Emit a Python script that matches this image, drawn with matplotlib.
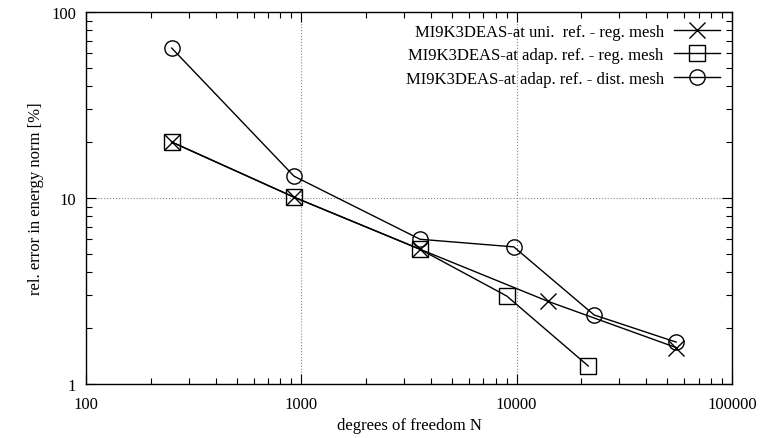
import numpy as np
import matplotlib
matplotlib.use("Agg")
import matplotlib.pyplot as plt
from matplotlib.ticker import LogLocator, NullFormatter, FixedLocator, FixedFormatter

plt.rcParams['font.family'] = ['Liberation Serif', 'DejaVu Serif']

# uniform refinement - regular mesh
uni_N = [250, 925, 3560, 14000, 55000]
uni_err = [20.0, 10.1, 5.3, 2.78, 1.57]

# adaptive refinement - regular mesh
adap_N = [250, 925, 3560, 9000, 21500]
adap_err = [20.0, 10.1, 5.3, 2.97, 1.25]

# adaptive refinement - distorted mesh
dist_N = [250, 925, 3560, 9700, 22900, 55000]
dist_err = [64.0, 13.1, 6.0, 5.46, 2.35, 1.68]

labels = ["MI9K3DEAS-at uni.  ref. - reg. mesh",
          "MI9K3DEAS-at adap. ref. - reg. mesh",
          "MI9K3DEAS-at adap. ref. - dist. mesh"]

x_ticks = [100, 1000, 10000, 100000]
x_ticklabels = ["100", "1000", "10000", "100000"]
y_ticks = [1, 10, 100]
y_ticklabels = ["1", "10", "100"]

fig = plt.figure(figsize=(7.6, 4.39), dpi=100)
ax = fig.add_axes([86/760, 1 - 385/439, (732-86)/760, (385-13)/439])

ax.plot(uni_N, uni_err, color='black', lw=1.0, marker='x', ms=11, mew=1.0, label=labels[0])
ax.plot(adap_N, adap_err, color='black', lw=1.0, marker='s', ms=11, mfc='none', mew=1.0, label=labels[1])
ax.plot(dist_N, dist_err, color='black', lw=1.0, marker='o', ms=11, mfc='none', mew=1.0, label=labels[2])

ax.set_xscale('log')
ax.set_yscale('log')
ax.set_xlim(100, 100000)
ax.set_ylim(1, 100)

ax.xaxis.set_major_locator(FixedLocator(x_ticks))
ax.xaxis.set_major_formatter(FixedFormatter(x_ticklabels))
ax.yaxis.set_major_locator(FixedLocator(y_ticks))
ax.yaxis.set_major_formatter(FixedFormatter(y_ticklabels))
ax.xaxis.set_minor_locator(LogLocator(base=10, subs=np.arange(2, 10)))
ax.yaxis.set_minor_locator(LogLocator(base=10, subs=np.arange(2, 10)))
ax.xaxis.set_minor_formatter(NullFormatter())
ax.yaxis.set_minor_formatter(NullFormatter())

ax.tick_params(which='both', direction='in', top=True, right=True, labelsize=12, width=0.8)
ax.tick_params(axis='x', pad=9)
ax.tick_params(axis='y', pad=7)
ax.tick_params(which='major', length=7)
ax.tick_params(which='minor', length=4)
for s in ax.spines.values():
    s.set_linewidth(1.0)

ax.grid(True, which='major', color='#888888', linestyle=':', linewidth=0.8)

ax.set_xlabel("degrees of freedom N", fontsize=12, labelpad=3)
ax.set_ylabel("rel. error in energy norm [%]", fontsize=12, labelpad=5)

leg = ax.legend(loc='upper right', markerfirst=False, frameon=False, fontsize=12,
                handlelength=2.8, labelspacing=0.45, borderaxespad=0.3, handletextpad=0.6)

fig.savefig("out.png", dpi=100)
